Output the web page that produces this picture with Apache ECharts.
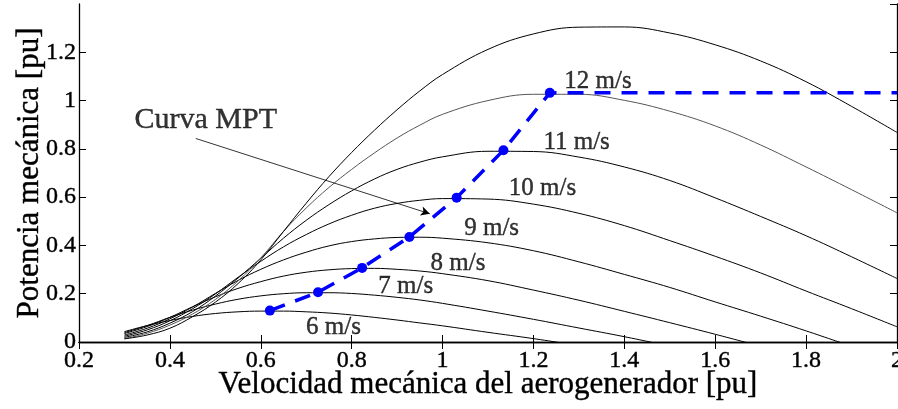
<!DOCTYPE html>
<html>
<head>
<meta charset="utf-8">
<script src="https://cdn.jsdelivr.net/npm/echarts@6/dist/echarts.min.js"></script>
<style>
  html, body { margin: 0; padding: 0; background: #fff; }
  #main { width: 898px; height: 409px; }
</style>
</head>
<body>
<div id="main"></div>
<script>
// velocidad mecanica [pu] (eje x comun)
var speedGrid = [0.3, 0.35, 0.4, 0.45, 0.5, 0.55, 0.6, 0.65, 0.7, 0.75, 0.8, 0.85, 0.9, 0.95, 1.0,
                 1.1, 1.2, 1.3, 1.4, 1.5, 1.6, 1.7, 1.8, 1.9, 2.0];

// potencia mecanica [pu] por velocidad de viento
var power6  = [0.043, 0.068, 0.089, 0.106, 0.118, 0.125, 0.128, 0.128, 0.125, 0.120, 0.112, 0.102, 0.091, 0.079, 0.067,
               0.040, 0.014, -0.015];
var power7  = [0.039, 0.068, 0.102, 0.132, 0.157, 0.177, 0.191, 0.200, 0.204, 0.204, 0.201, 0.194, 0.185, 0.174, 0.160,
               0.128, 0.094, 0.058, 0.022, -0.017];
var power8  = [0.035, 0.064, 0.102, 0.146, 0.187, 0.222, 0.250, 0.273, 0.289, 0.299, 0.304, 0.305, 0.301, 0.294, 0.283,
               0.254, 0.215, 0.173, 0.127, 0.080, 0.032, -0.018];
var power9  = [0.029, 0.057, 0.096, 0.145, 0.201, 0.255, 0.301, 0.340, 0.372, 0.398, 0.416, 0.427, 0.433, 0.434, 0.430,
               0.411, 0.378, 0.332, 0.280, 0.226, 0.166, 0.107, 0.046, -0.018];
var power10 = [0.024, 0.050, 0.088, 0.138, 0.199, 0.268, 0.334, 0.394, 0.445, 0.489, 0.525, 0.554, 0.574, 0.587, 0.594,
               0.592, 0.571, 0.533, 0.482, 0.420, 0.355, 0.286, 0.211, 0.138, 0.063];
var power11 = [0.019, 0.042, 0.078, 0.126, 0.190, 0.265, 0.347, 0.430, 0.504, 0.569, 0.626, 0.675, 0.715, 0.745, 0.767,
               0.790, 0.789, 0.766, 0.725, 0.669, 0.597, 0.520, 0.440, 0.353, 0.263];
var power12 = [0.014, 0.036, 0.070, 0.116, 0.176, 0.253, 0.348, 0.458, 0.555, 0.640, 0.715, 0.783, 0.845, 0.898, 0.943,
               1.000, 1.026, 1.026, 1.001, 0.956, 0.895, 0.816, 0.725, 0.631, 0.535];
var power13 = [0.013, 0.029, 0.057, 0.105, 0.165, 0.242, 0.340, 0.458, 0.575, 0.685, 0.785, 0.877, 0.962, 1.040, 1.108,
               1.212, 1.276, 1.304, 1.305, 1.280, 1.231, 1.164, 1.078, 0.976, 0.868];

var curves = [power6, power7, power8, power9, power10, power11, power12, power13];
var curveColors = ['#000', '#000', '#000', '#000', '#000', '#000', '#555', '#000'];

// curva de seguimiento del punto de maxima potencia
var mptSpeed = [0.62, 0.726, 0.823, 0.927, 1.031, 1.134, 1.236, 2.0];
var mptPower = [0.13, 0.206, 0.307, 0.435, 0.598, 0.794, 1.032, 1.032];

// etiquetas de viento
var windLabels = ['6 m/s', '7 m/s', '8 m/s', '9 m/s', '10 m/s', '11 m/s', '12 m/s'];
var windLabelAt = [[0.760, 0.059], [0.919, 0.229], [1.034, 0.326], [1.108, 0.471],
                   [1.220, 0.635], [1.295, 0.828], [1.342, 1.081]];

var serif = 'Liberation Serif';
// trazo fino para que el texto salga negro como en la figura
var ink = { color: '#000', fontFamily: serif, textBorderColor: '#000', textBorderWidth: 0.4 };

var myChart = echarts.init(document.getElementById('main'));

var series = [];
curves.forEach(function(vals, k){
    series.push({
        type: 'line',
        showSymbol: false,
        symbol: 'none',
        smooth: 0.4,
        lineStyle: { color: curveColors[k], width: 1 },
        data: vals.map(function(p, i){ return [speedGrid[i], p]; }),
        z: 2
    });
});

series.push({
    type: 'line',
    symbol: 'circle',
    symbolSize: 10,
    itemStyle: { color: '#0000ff' },
    lineStyle: { color: '#0000ff', width: 3.5, type: [16, 11] },
    data: mptSpeed.map(function(w, i){
        return { value: [w, mptPower[i]], symbolSize: i == mptSpeed.length - 1 ? 0 : 10 };
    }),
    z: 5
});

// textos
series.push({
    type: 'scatter',
    symbolSize: 0,
    silent: true,
    itemStyle: { color: '#000' },
    label: Object.assign({
        show: true, position: [0, 0], align: 'center', verticalAlign: 'middle', fontSize: 25,
        formatter: function(p){ return p.data.name; }
    }, ink),
    data: windLabels.map(function(t, i){ return { name: t, value: windLabelAt[i] }; })
            .concat([{ name: 'Curva MPT', value: [0.479, 0.919], label: { fontSize: 30 } }]),
    markLine: {
        silent: true,
        symbol: ['none', 'arrow'],
        symbolSize: [7, 9],
        label: { show: false },
        lineStyle: { color: '#000', width: 0.8, type: 'solid' },
        data: [[{ coord: [0.457, 0.843] }, { coord: [0.972, 0.531] }]]
    },
    z: 6
});

var tickStyle = { show: true, inside: true, length: 7, lineStyle: { color: '#000', width: 1 } };
var lineStyle = { show: true, lineStyle: { color: '#000', width: 1.3 } };

var option = {
    animation: false,
    grid: { left: 79, right: 1, top: 4, bottom: 67, containLabel: false, outerBoundsMode: 'none' },
    xAxis: [{
        type: 'value', min: 0.2, max: 2, interval: 0.2,
        axisLine: lineStyle, axisTick: tickStyle, splitLine: { show: false },
        axisLabel: Object.assign({ fontSize: 24, margin: 7 }, ink),
        name: 'Velocidad mecánica del aerogenerador [pu]',
        nameLocation: 'middle', nameGap: 27, nameMoveOverlap: false,
        nameTextStyle: Object.assign({ fontSize: 31 }, ink)
    }, {
        type: 'value', position: 'top', min: 0.2, max: 2, interval: 0.2,
        axisLine: lineStyle, axisTick: tickStyle, splitLine: { show: false },
        axisLabel: { show: false }
    }],
    yAxis: [{
        type: 'value', min: 0, max: 1.4, interval: 0.2,
        axisLine: lineStyle, axisTick: tickStyle, splitLine: { show: false },
        axisLabel: Object.assign({ fontSize: 24, margin: 3, showMaxLabel: false }, ink),
        name: 'Potencia mecánica [pu]',
        nameLocation: 'middle', nameGap: 34, nameRotate: 90, nameMoveOverlap: false,
        nameTextStyle: Object.assign({ fontSize: 31 }, ink)
    }, {
        type: 'value', position: 'right', min: 0, max: 1.4, interval: 0.2,
        axisLine: lineStyle, axisTick: tickStyle, splitLine: { show: false },
        axisLabel: { show: false }
    }],
    series: series
};
myChart.setOption(option);
</script>
</body>
</html>
